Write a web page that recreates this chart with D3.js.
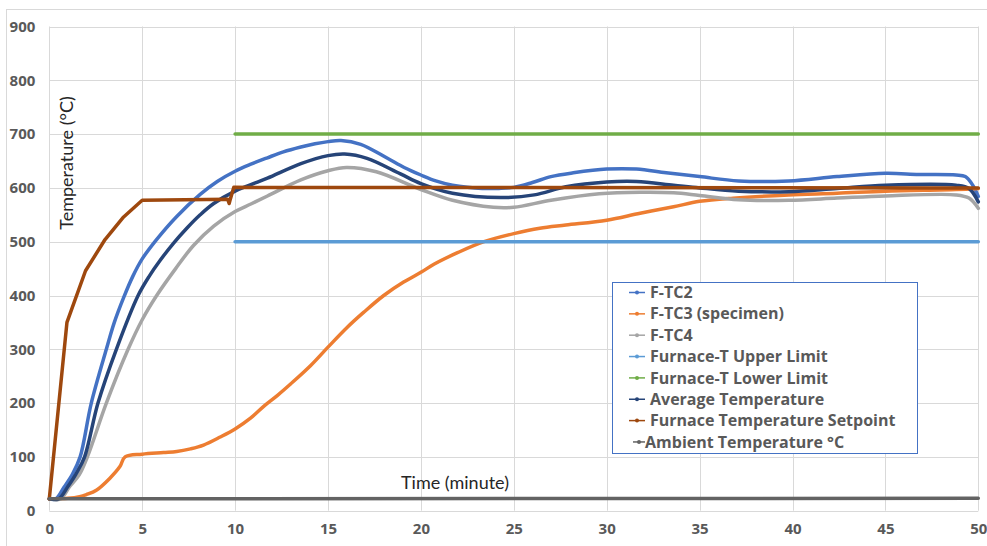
<!DOCTYPE html>
<html>
<head>
<meta charset="utf-8">
<script src="https://cdn.jsdelivr.net/npm/d3@7/dist/d3.min.js"></script>
<style>
  html, body { margin: 0; padding: 0; background: #fff; }
  svg { display: block; }
  text { font-family: Lato, "Open Sans", sans-serif; }
  text.lbl { font-family: "Open Sans", Lato, sans-serif; font-weight: bold; fill: #595959; }
</style>
</head>
<body>
<svg id="chart" width="987" height="546"></svg>
<script>
// ---- data (time in minutes, temperature in °C) ----
const tc2Time = [0, 0.35, 0.8, 1.25, 1.66, 2.26, 3.07, 3.5, 4, 4.5, 5, 5.75, 6.86, 8.12, 9.04, 10, 10.85, 11.74, 12.6, 13.54, 14.3, 15, 15.7, 16.76, 18.2, 19.1, 20, 20.8, 21.7, 22.5, 23.3, 24.2, 25, 26, 27, 28.2, 30, 31.6, 33.2, 35, 37.1, 39.8, 42.4, 45, 46.8, 48.8, 49.3, 49.7, 50];
const tc2Temp = [22, 22, 44, 68, 100, 200, 300, 350, 396, 436, 468, 503, 547, 588, 612, 631, 644, 656, 667, 676, 682, 686, 688, 681, 655, 638, 624, 613, 605, 601, 599, 599, 601, 610, 621, 628, 635, 635, 628, 621, 613, 613, 621, 627, 625, 624, 621, 605, 584];

const tc3Time = [0, 1, 1.63, 2.0, 2.53, 3.25, 3.8, 4.08, 5, 6.15, 6.86, 7.6, 8.3, 9.2, 10, 10.83, 11.57, 12.3, 13, 14.07, 15, 16.04, 16.93, 18, 19.07, 20, 20.7, 22, 23.4, 25, 26.4, 27.8, 30, 31.8, 33.6, 35, 36.8, 39.8, 42.4, 45, 48.8, 50];
const tc3Temp = [22, 23, 26, 30, 38, 60, 82, 100, 105, 108, 110, 115, 122, 137, 152, 172, 195, 215, 236, 270, 304, 341, 369, 400, 425, 443, 458, 480, 500, 515, 525, 531, 540, 553, 565, 575, 581, 587, 590, 594, 597, 599];

const tc4Time = [0, 0.6, 1.1, 1.6, 2.05, 3.07, 4.24, 5, 5.78, 6.8, 7.76, 8.85, 10, 10.85, 11.74, 13.54, 15, 16, 17.6, 20, 21.7, 23.9, 25, 27, 29.6, 31.8, 33.6, 35, 37.1, 39.8, 42.4, 45, 48.8, 49.5, 50];
const tc4Temp = [22, 22, 45, 66, 100, 200, 300, 355, 400, 450, 493, 529, 556, 570, 585, 615, 632, 638, 630, 597, 577, 564, 564, 577, 589, 592, 591, 586, 578, 577, 581, 585, 587, 581, 562];

const avgTime = [0, 0.5, 1.0, 1.45, 1.9, 2.62, 3.61, 4.78, 5.4, 5.96, 6.68, 7.4, 8.12, 8.85, 10, 10.85, 11.74, 13.54, 15, 15.9, 17.1, 18.9, 20, 21.7, 24.3, 26.1, 27.8, 30, 31.6, 33.6, 35, 37.1, 39.8, 42.4, 45, 48.8, 49.5, 50];
const avgTemp = [22, 22, 45, 69, 100, 200, 300, 400, 437, 465, 497, 525, 550, 571, 594, 606, 618, 645, 660, 663, 655, 626, 608, 590, 582, 587, 602, 611, 612, 605, 600, 594, 593, 599, 605, 605, 599, 574];

const setpointTime = [0, 0.95, 1.95, 3, 4, 5, 9.6, 9.68, 9.75, 9.93, 50];
const setpointTemp = [22, 350, 446, 504, 546, 577, 579, 571, 580, 601, 600];

const limitTime = [10, 50];
const upperLimit = [500, 500];
const lowerLimit = [700, 700];

const ambientTime = [0, 50];
const ambientTemp = [22, 23];

const xTicks = [0, 5, 10, 15, 20, 25, 30, 35, 40, 45, 50];
const yTicks = [0, 100, 200, 300, 400, 500, 600, 700, 800, 900];

const seriesNames = ["F-TC2", "F-TC3 (specimen)", "F-TC4", "Furnace-T Upper Limit",
  "Furnace-T Lower Limit", "Average Temperature", "Furnace Temperature Setpoint", "Ambient Temperature °C"];
const seriesColors = ["#4472C4", "#ED7D31", "#A5A5A5", "#5B9BD5", "#70AD47", "#264478", "#9E480E", "#636363"];

// ---- build series ----
const zip = (t, v) => t.map((d, i) => ({ t: d, v: v[i] }));
const series = [
  { values: zip(tc2Time, tc2Temp), smooth: true },
  { values: zip(tc3Time, tc3Temp), smooth: true },
  { values: zip(tc4Time, tc4Temp), smooth: true },
  { values: zip(limitTime, upperLimit), smooth: false },
  { values: zip(limitTime, lowerLimit), smooth: false },
  { values: zip(avgTime, avgTemp), smooth: true },
  { values: zip(setpointTime, setpointTemp), smooth: false },
  { values: zip(ambientTime, ambientTemp), smooth: false }
].map((s, i) => ({ ...s, name: seriesNames[i], color: seriesColors[i] }));

// ---- layout ----
const svg = d3.select("#chart");
const W = 987, H = 546;
const plot = { left: 49.3, right: 978.3, top: 26.5, bottom: 510.7 };

const x = d3.scaleLinear().domain([0, 50]).range([plot.left, plot.right]);
const y = d3.scaleLinear().domain([0, 900]).range([plot.bottom, plot.top]);

svg.append("rect").attr("width", W).attr("height", H).attr("fill", "#fff");
// chart frame
svg.append("rect").attr("x", 6.5).attr("y", 9.5).attr("width", 1000).attr("height", 600)
  .attr("fill", "none").attr("stroke", "#d9d9d9");

// gridlines
const grid = svg.append("g");
grid.selectAll(".hg").data(yTicks).join("line")
  .attr("x1", plot.left).attr("x2", plot.right)
  .attr("y1", d => Math.round(y(d)) + 0.5).attr("y2", d => Math.round(y(d)) + 0.5)
  .attr("stroke", "#d9d9d9").attr("stroke-width", 1);
grid.selectAll(".vg").data(xTicks).join("line")
  .attr("y1", plot.top).attr("y2", plot.bottom)
  .attr("x1", d => Math.round(x(d)) + 0.5).attr("x2", d => Math.round(x(d)) + 0.5)
  .attr("stroke", "#d9d9d9").attr("stroke-width", 1);

// axes (labels only)
const yAxis = svg.append("g").attr("transform", `translate(${plot.left},0)`)
  .call(d3.axisLeft(y).tickValues(yTicks).tickSize(0).tickPadding(14));
const xAxis = svg.append("g").attr("transform", `translate(0,${plot.bottom})`)
  .call(d3.axisBottom(x).tickValues(xTicks).tickSize(0).tickPadding(13));
[xAxis, yAxis].forEach(a => {
  a.select(".domain").remove();
  a.selectAll("text").attr("class", "lbl").style("font-size", "15px");
});

// lines
const lineSmooth = d3.line().x(d => x(d.t)).y(d => y(d.v)).curve(d3.curveCatmullRom.alpha(0.5));
const lineStraight = d3.line().x(d => x(d.t)).y(d => y(d.v));
svg.append("g").selectAll("path").data(series).join("path")
  .attr("d", s => (s.smooth ? lineSmooth : lineStraight)(s.values))
  .attr("fill", "none").attr("stroke", s => s.color)
  .attr("stroke-width", 3.5).attr("stroke-linejoin", "round").attr("stroke-linecap", "round");

// axis titles
svg.append("text").attr("transform", "translate(73,163) rotate(-90)")
  .attr("text-anchor", "middle").style("font-size", "18px").attr("fill", "#262626")
  .text("Temperature (°C)");
svg.append("text").attr("x", 455).attr("y", 489)
  .attr("text-anchor", "middle").style("font-size", "18px").attr("fill", "#262626")
  .text("Time (minute)");

// legend
const lg = svg.append("g");
lg.append("rect").attr("x", 612.5).attr("y", 282.5).attr("width", 305).attr("height", 171)
  .attr("fill", "#fff").attr("stroke", "#4472C4").attr("stroke-width", 1);
const item = lg.selectAll(".item").data(series).join("g")
  .attr("transform", (d, i) => `translate(0,${292.5 + i * 21.35})`);
item.append("line")
  .attr("x1", (d, i) => i === 7 ? 633 : 629).attr("x2", 645)
  .attr("stroke", d => d.color).attr("stroke-width", 1.5);
item.append("circle").attr("cx", (d, i) => i === 7 ? 639 : 637).attr("r", 2).attr("fill", d => d.color);
item.append("text").attr("class", "lbl")
  .attr("x", (d, i) => i === 7 ? 645 : 650).attr("y", 0).attr("dy", "0.35em")
  .style("font-size", "16px")
  .text(d => d.name);
</script>
</body>
</html>
